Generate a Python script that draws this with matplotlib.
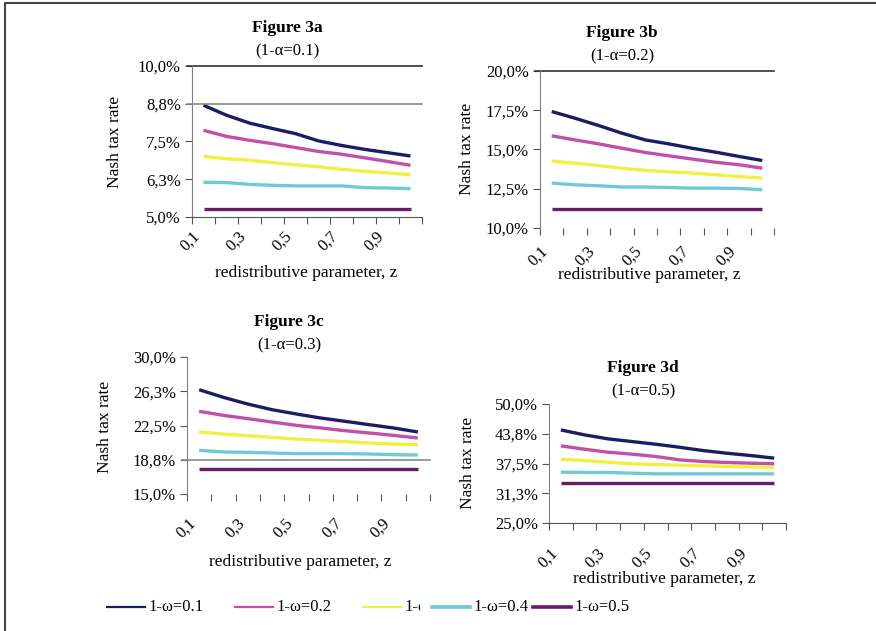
import numpy as np
import matplotlib
matplotlib.use("Agg")
import matplotlib.pyplot as plt
from matplotlib.lines import Line2D
from matplotlib.ticker import FixedLocator, NullFormatter
from matplotlib.transforms import Bbox

plt.rcParams['font.family'] = ['Liberation Serif', 'DejaVu Serif']

W, H = 876, 631

# categories on the x axis (z = 0.1 ... 1.0), every other one labelled
z_values = [0.1, 0.2, 0.3, 0.4, 0.5, 0.6, 0.7, 0.8, 0.9, 1.0]
z_ticklabels = ['0,1', '0,3', '0,5', '0,7', '0,9']
omega_labels = ['1-ω=0.1', '1-ω=0.2', '1-ω=0.3', '1-ω=0.4', '1-ω=0.5']
colors = ['#1c1c64', '#c050a8', '#f0f040', '#70c8d8', '#6a1a6a']

# Figure 3a (1-alpha=0.1), Nash tax rate in %
tax_3a = [
    [8.70, 8.37, 8.11, 7.93, 7.76, 7.52, 7.37, 7.24, 7.13, 7.02],
    [7.87, 7.67, 7.54, 7.43, 7.30, 7.17, 7.08, 6.96, 6.84, 6.71],
    [7.01, 6.93, 6.88, 6.80, 6.73, 6.66, 6.58, 6.51, 6.46, 6.40],
    [6.15, 6.14, 6.08, 6.05, 6.03, 6.03, 6.03, 5.97, 5.96, 5.94],
    [5.25, 5.25, 5.25, 5.25, 5.25, 5.25, 5.25, 5.25, 5.25, 5.25],
]
yticks_3a = [5.0, 6.25, 7.5, 8.75, 10.0]
ylabels_3a = ['5,0%', '6,3%', '7,5%', '8,8%', '10,0%']

# Figure 3b (1-alpha=0.2)
tax_3b = [
    [17.42, 16.99, 16.53, 16.04, 15.61, 15.36, 15.08, 14.83, 14.56, 14.30],
    [15.87, 15.61, 15.36, 15.08, 14.81, 14.60, 14.39, 14.19, 14.03, 13.81],
    [14.26, 14.13, 13.98, 13.81, 13.67, 13.58, 13.50, 13.39, 13.28, 13.18],
    [12.86, 12.75, 12.69, 12.61, 12.61, 12.58, 12.54, 12.54, 12.52, 12.44],
    [11.23, 11.23, 11.23, 11.23, 11.23, 11.23, 11.23, 11.23, 11.23, 11.23],
]
yticks_3b = [10.0, 12.5, 15.0, 17.5, 20.0]
ylabels_3b = ['10,0%', '12,5%', '15,0%', '17,5%', '20,0%']

# Figure 3c (1-alpha=0.3)
tax_3c = [
    [26.42, 25.58, 24.85, 24.23, 23.76, 23.32, 22.96, 22.59, 22.23, 21.79],
    [24.05, 23.61, 23.25, 22.88, 22.52, 22.23, 21.93, 21.68, 21.42, 21.13],
    [21.79, 21.57, 21.39, 21.20, 21.02, 20.88, 20.73, 20.58, 20.47, 20.40],
    [19.78, 19.60, 19.56, 19.49, 19.42, 19.42, 19.42, 19.38, 19.31, 19.27],
    [17.77, 17.77, 17.77, 17.77, 17.77, 17.77, 17.77, 17.77, 17.77, 17.77],
]
yticks_3c = [15.0, 18.75, 22.5, 26.25, 30.0]
ylabels_3c = ['15,0%', '18,8%', '22,5%', '26,3%', '30,0%']

# Figure 3d (1-alpha=0.5)
tax_3d = [
    [44.55, 43.51, 42.67, 42.11, 41.55, 40.92, 40.22, 39.66, 39.18, 38.62],
    [41.20, 40.50, 39.87, 39.46, 38.97, 38.27, 37.92, 37.71, 37.57, 37.43],
    [38.41, 38.13, 37.78, 37.43, 37.29, 37.15, 37.01, 36.87, 36.80, 36.66],
    [35.68, 35.61, 35.61, 35.47, 35.33, 35.33, 35.33, 35.33, 35.33, 35.33],
    [33.38, 33.38, 33.38, 33.38, 33.38, 33.38, 33.38, 33.38, 33.38, 33.38],
]
yticks_3d = [25.0, 31.25, 37.5, 43.75, 50.0]
ylabels_3d = ['25,0%', '31,3%', '37,5%', '43,8%', '50,0%']


def fx(x):
    return x / W


def fy(y):
    return 1 - y / H


def panel(box, tax, yticks, ylabels, title, sub, tpos, ylpos, xlpos, pad,
          bottom_spine=True):
    x0, ytop, x1, ybot = box
    ax = fig.add_axes([fx(x0), fy(ybot), fx(x1 - x0), (ybot - ytop) / H])
    x = np.arange(len(z_values))
    for vals, c in zip(tax, colors):
        ax.plot(x, vals, color=c, lw=2.4, solid_capstyle='butt')
    ax.set_xlim(-0.5, len(z_values) - 0.5)
    ax.set_ylim(yticks[0], yticks[-1])
    ax.set_yticks(yticks)
    ax.set_yticklabels(ylabels, fontsize=12)
    ax.xaxis.set_major_locator(FixedLocator(np.arange(-0.5, len(z_values), 1)))
    ax.xaxis.set_major_formatter(NullFormatter())
    ax.set_xticks(x[::2], minor=True)
    ax.set_xticklabels(z_ticklabels, minor=True, rotation=45, ha='right',
                       va='top', fontsize=12)
    ax.tick_params(axis='x', which='major', direction='out', length=5,
                   color='#555555')
    ax.tick_params(axis='x', which='minor', length=0, pad=pad)
    ax.tick_params(axis='y', direction='out', length=5, color='#555555',
                   pad=3)
    for s in ['top', 'right']:
        ax.spines[s].set_visible(False)
    ax.spines['left'].set_color('#808080')
    ax.spines['bottom'].set_color('#555555')
    ax.spines['bottom'].set_visible(bottom_spine)
    fig.text(fx(tpos[0]), fy(tpos[1]), title, fontsize=12.5, fontweight='bold',
             ha='center', va='center')
    fig.text(fx(tpos[0]), fy(tpos[1] + 23), sub, fontsize=12,
             ha='center', va='center')
    fig.text(fx(ylpos[0]), fy(ylpos[1]), 'Nash tax rate', fontsize=12.5,
             rotation=90, ha='center', va='center')
    fig.text(fx(xlpos[0]), fy(xlpos[1]), 'redistributive parameter, z',
             fontsize=12.5, ha='center', va='center')
    return ax


fig = plt.figure(figsize=(W / 100, H / 100), dpi=100)

ax_a = panel((192, 66, 422, 217), tax_3a, yticks_3a, ylabels_3a,
             'Figure 3a', '(1-α=0.1)', (287, 28), (115, 142), (306, 273), 8)
ax_a.axhline(yticks_3a[-1], color='#333333', lw=1.2, xmin=-0.02, clip_on=False)
ax_a.axhline(yticks_3a[3], color='#888888', lw=1.2, xmin=-0.02, clip_on=False)

ax_b = panel((540, 71, 774, 228), tax_3b, yticks_3b, ylabels_3b,
             'Figure 3b', '(1-α=0.2)', (622, 33), (467, 149), (649, 275), 11,
             bottom_spine=False)
ax_b.axhline(yticks_3b[-1], color='#333333', lw=1.2, xmin=-0.02, clip_on=False)

ax_c = panel((187, 357, 430, 494), tax_3c, yticks_3c, ylabels_3c,
             'Figure 3c', '(1-α=0.3)', (289, 322), (105, 427), (300, 562), 15,
             bottom_spine=False)
ax_c.axhline(yticks_3c[1], color='#888888', lw=1.2, xmin=-0.02, clip_on=False)

ax_d = panel((549, 404, 786, 523), tax_3d, yticks_3d, ylabels_3d,
             'Figure 3d', '(1-α=0.5)', (643, 368), (468, 463), (664, 579), 16)

# outer frame (left and top edges only)
fig.add_artist(Line2D([fx(5), fx(5), fx(876)], [fy(631), fy(3), fy(3)],
                      color='#444444', lw=1.5))

# legend row along the bottom
leg_x = [107, 235, 363, 432, 533]
leg_lw = [1.6, 1.6, 1.6, 2.6, 2.6]
for i, (lab, c) in enumerate(zip(omega_labels, colors)):
    x0 = leg_x[i]
    fig.add_artist(Line2D([fx(x0), fx(x0 + 38)], [fy(607), fy(607)],
                          color=c, lw=leg_lw[i]))
    t = fig.text(fx(x0 + 41), fy(607), lab, fontsize=12, ha='left',
                 va='center')
    if i == 2:
        # third entry is cut off by the next one in the original
        t.set_clip_box(Bbox.from_extents(0, 0, 420, H))
        t.set_clip_on(True)

fig.savefig('out.png', dpi=100)
